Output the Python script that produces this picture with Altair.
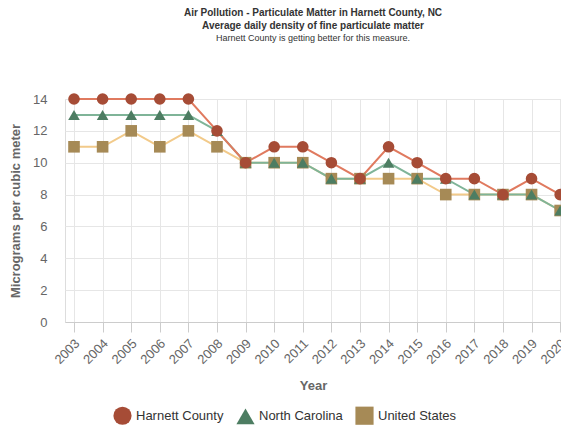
import altair as alt
import pandas as pd

years = list(range(2003, 2021))
harnett = [14, 14, 14, 14, 14, 12, 10, 11, 11, 10, 9, 11, 10, 9, 9, 8, 9, 8]
north_carolina = [13, 13, 13, 13, 13, 12, 10, 10, 10, 9, 9, 10, 9, 9, 8, 8, 8, 7]
united_states = [11, 11, 12, 11, 12, 11, 10, 10, 10, 9, 9, 9, 9, 8, 8, 8, 8, 7]

series = ["Harnett County", "North Carolina", "United States"]
draw_order = ["United States", "North Carolina", "Harnett County"]
values = {"Harnett County": harnett, "North Carolina": north_carolina, "United States": united_states}
marker_colors = ["#a64c36", "#4d7d62", "#a68a56"]
line_colors = {"Harnett County": "#e07a5f", "North Carolina": "#7fb498", "United States": "#f2ca8a"}
shapes = ["circle", "triangle-up", "square"]

rows = []
for s in draw_order:
    for y, v in zip(years, values[s]):
        rows.append({"Year": y, "Value": v, "Series": s, "order": draw_order.index(s)})
df = pd.DataFrame(rows)

FONT = "Liberation Sans"

x_enc = alt.X("Year:Q",
              scale=alt.Scale(domain=[2002.685, 2020.03], nice=False, zero=False),
              axis=alt.Axis(values=years, format="d", labelAngle=-45, labelAlign="right",
                            labelBaseline="middle", labelFontSize=13, labelColor="#666666",
                            labelPadding=9, labelOffset=3, tickSize=10, tickColor="#cccccc",
                            domainColor="#cccccc", domainWidth=1, grid=True,
                            gridColor="#e6e6e6", title="Year", titleFontSize=13,
                            titleColor="#666666", titleFontWeight="bold", titlePadding=13,
                            labelFont=FONT, titleFont=FONT, labelOverlap=False))
y_enc = alt.Y("Value:Q",
              scale=alt.Scale(domain=[0, 14], nice=False),
              axis=alt.Axis(values=[0, 2, 4, 6, 8, 10, 12, 14], labelFontSize=13,
                            labelColor="#666666", labelPadding=18, ticks=False, domain=False,
                            grid=True, gridColor="#e6e6e6", title="Micrograms per cubic meter",
                            titleFontSize=13, titleColor="#666666", titleFontWeight="bold",
                            titlePadding=10, labelFont=FONT, titleFont=FONT))

legend = alt.Legend(title=None, orient="none", direction="horizontal",
                    legendX=48, legendY=307, symbolSize=330,
                    labelFontSize=13, labelColor="#333333", labelFont=FONT,
                    columnPadding=12, labelOffset=4, padding=0,
                    symbolStrokeWidth=0, symbolOpacity=1)

base = alt.Chart(df)
line_layers = [
    base.transform_filter(alt.datum.Series == s)
        .mark_line(strokeWidth=2, color=line_colors[s])
        .encode(x=x_enc, y=y_enc)
    for s in draw_order
]

points = base.mark_point(filled=True, opacity=1, strokeWidth=0, size=135).encode(
    x=x_enc, y=y_enc,
    color=alt.Color("Series:N", scale=alt.Scale(domain=series, range=marker_colors), legend=legend),
    shape=alt.Shape("Series:N", scale=alt.Scale(domain=series, range=shapes), legend=legend),
    order="order:Q",
)

chart = alt.layer(*line_layers, points).properties(
    width=496,
    height=223,
    autosize=alt.AutoSizeParams(type="none"),
    padding={"left": 57, "top": 91, "right": 0, "bottom": 107},
    title=alt.TitleParams(
        text=["Air Pollution - Particulate Matter in Harnett County, NC",
              "Average daily density of fine particulate matter"],
        subtitle="Harnett County is getting better for this measure.",
        fontSize=10, fontWeight="bold", color="#333333", font=FONT, lineHeight=13,
        subtitleFontSize=9, subtitleColor="#333333", subtitleFont=FONT, subtitlePadding=3,
        anchor="middle", frame="group", offset=50,
    ),
).configure_view(stroke=None).configure(background="white")

chart.save("out.html", embed_options={"renderer": "svg", "actions": False})
